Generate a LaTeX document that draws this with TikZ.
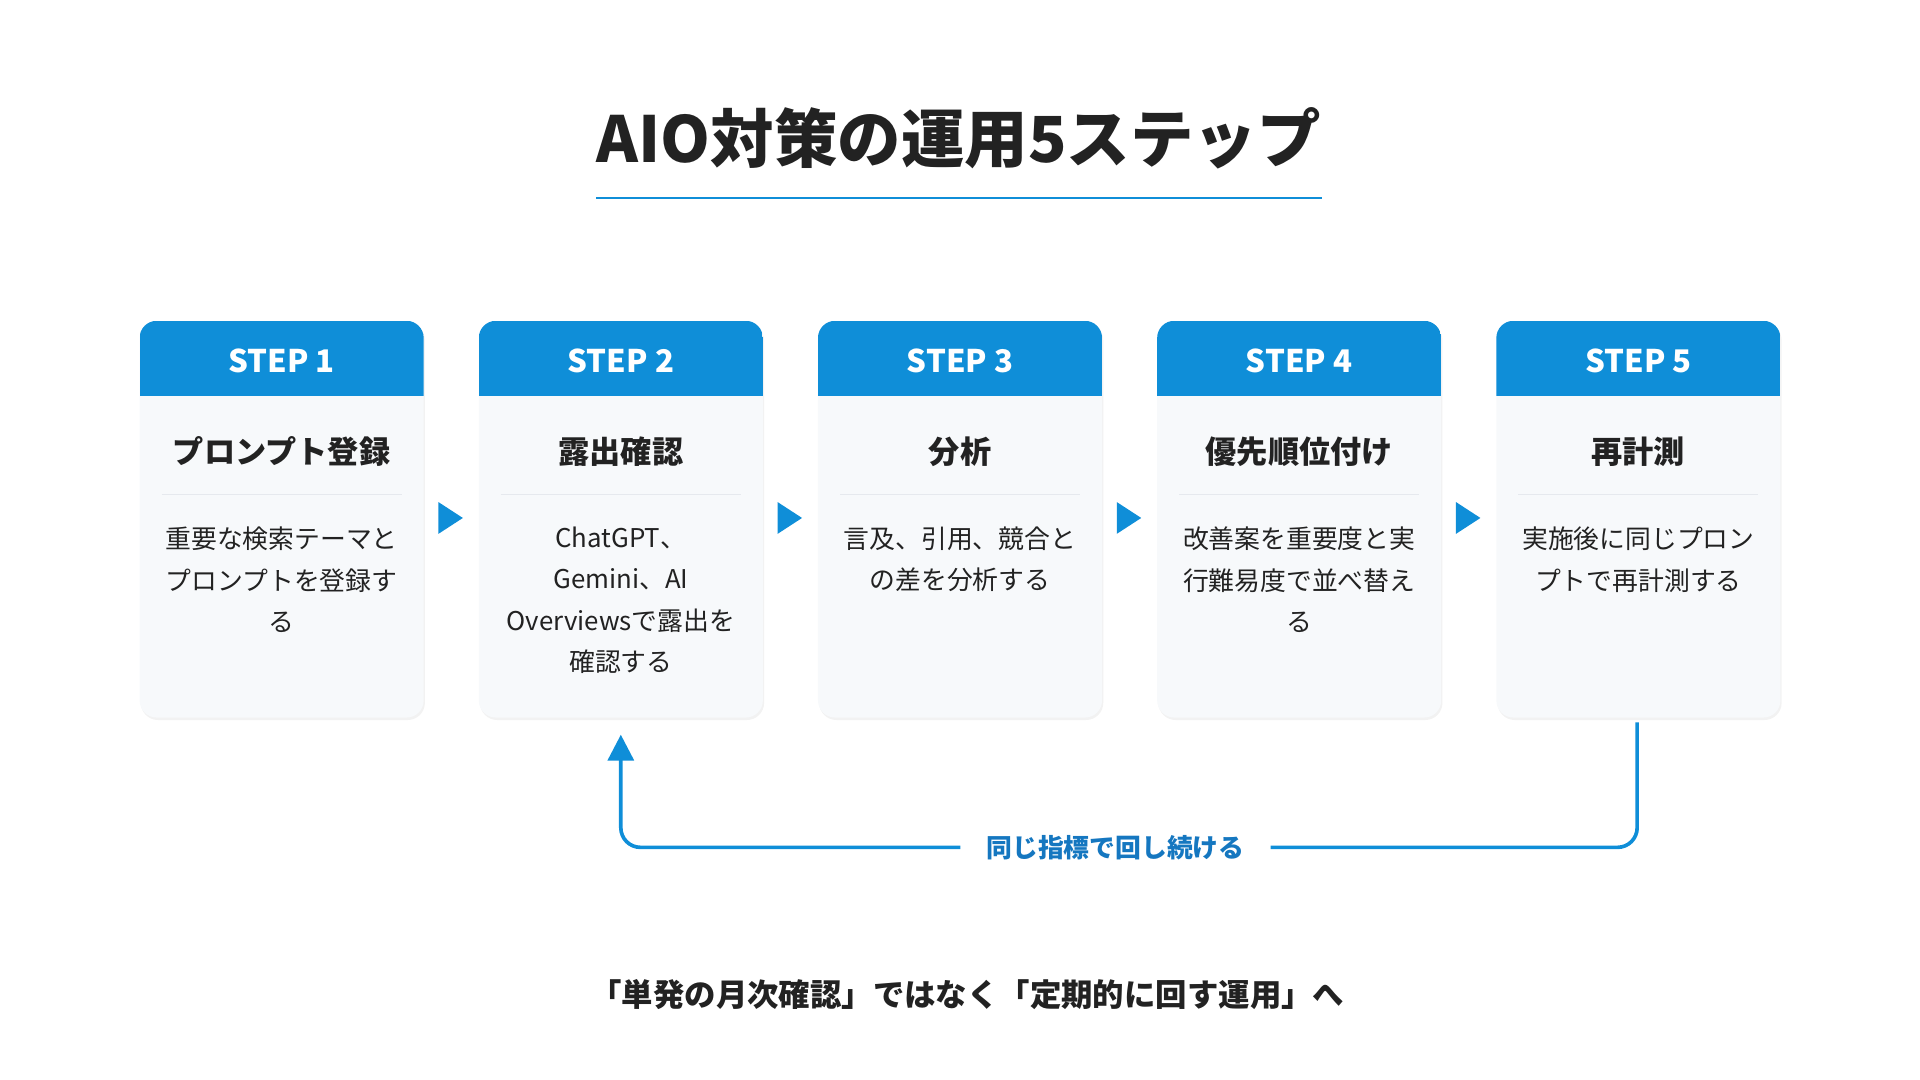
\documentclass[tikz,border=0pt]{standalone}
\usepackage{fontspec}
\setmainfont{Noto Sans CJK JP}
\usetikzlibrary{arrows.meta}
\definecolor{blu}{HTML}{0F8ED8}
\definecolor{dblu}{HTML}{1577C0}
\definecolor{card}{HTML}{F7F9FB}
\definecolor{sep}{HTML}{E6E9EE}
\definecolor{txt}{HTML}{222222}
\begin{document}
\begin{tikzpicture}[x=0.02cm,y=-0.02cm,
  cardbox/.style={fill=card,draw=none,rounded corners=14*0.02cm},
  hdr/.style={text=white,font=\fontsize{14.5pt}{17pt}\selectfont\bfseries},
  ttl/.style={text=txt,font=\fontsize{14.5pt}{17pt}\selectfont\bfseries},
  body/.style={text=txt,font=\fontsize{12pt}{19.3pt}\selectfont,align=center,anchor=north,text width=5.8cm},
  tri/.style={fill=blu,draw=none},
  loop/.style={draw=blu,line width=1.7pt,rounded corners=16*0.02cm}]
\useasboundingbox (0,0) rectangle (1568,882);
\node[text=txt,font=\fontsize{29.5pt}{36pt}\selectfont\bfseries] (title) at (783,113) {AIO対策の運用5ステップ};
\draw[blu,line width=1pt] (487,162) -- (1080,162);
\foreach \i/\h/\t/\b in {1/STEP 1/プロンプト登録/{重要な検索テーマと\\プロンプトを登録す\\る},
  2/STEP 2/露出確認/{ChatGPT、\\Gemini、AI\\Overviewsで露出を\\確認する},
  3/STEP 3/分析/{言及、引用、競合と\\の差を分析する},
  4/STEP 4/優先順位付け/{改善案を重要度と実\\行難易度で並べ替え\\る},
  5/STEP 5/再計測/{実施後に同じプロン\\プトで再計測する}}{
  \pgfmathsetmacro{\xl}{114+(\i-1)*277}
  \pgfmathsetmacro{\xc}{\xl+116}
  \fill[black!5] (\xl+1,264) [rounded corners=14*0.02cm] rectangle (\xl+233,588);
  \path[cardbox] (\xl,262) rectangle (\xl+232,586);
  \begin{scope}
    \clip[rounded corners=14*0.02cm] (\xl,262) rectangle (\xl+232,586);
    \fill[blu] (\xl,262) rectangle (\xl+232,323);
  \end{scope}
  \node[hdr] (h\i) at (\xc,295) {\h};
  \node[ttl] (t\i) at (\xc,369) {\t};
  \draw[sep,line width=0.6pt] (\xl+18,404) -- (\xl+214,404);
  \node[body] (b\i) at (\xc,424) {\b};
}
\foreach \i in {1,...,4}{
  \pgfmathsetmacro{\xa}{358+(\i-1)*277}
  \fill[tri] (\xa,410) -- (\xa+20,423) -- (\xa,436) -- cycle;
}
\coordinate (ls) at (1337,590);
\coordinate (le) at (507,600);
\node[text=dblu,font=\fontsize{12pt}{14pt}\selectfont\bfseries,inner xsep=0.42cm] (lbl) at (911,692) {同じ指標で回し続ける};
\draw[loop] (ls) -- (1337,692) -- (lbl.east);
\draw[loop,-{Triangle[length=12pt,width=12pt]}] (lbl.west) -- (507,692) -- (le);
\node[text=txt,font=\fontsize{14.6pt}{17pt}\selectfont\bfseries] (foot) at (790,812) {「単発の月次確認」ではなく「定期的に回す運用」へ};
\end{tikzpicture}
\end{document}
